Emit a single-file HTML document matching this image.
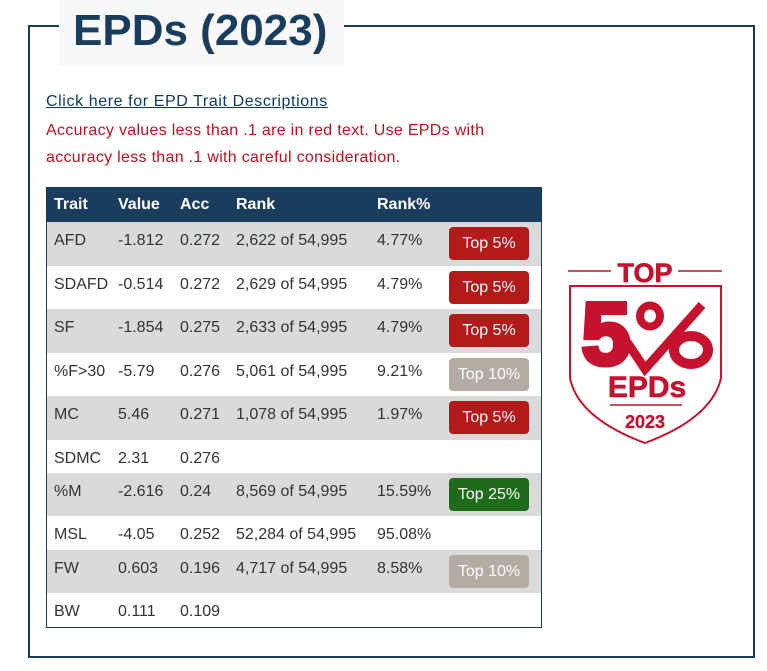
<!DOCTYPE html>
<html><head><meta charset="utf-8">
<style>
*{margin:0;padding:0;box-sizing:border-box}
body{width:767px;height:671px;background:#fff;position:relative;overflow:hidden;font-family:"Liberation Sans",sans-serif}
.frame{position:absolute;left:28px;top:25px;width:727px;height:633px;border:2px solid #1b3d5d}
.titlebox{position:absolute;left:59px;top:0;width:285px;height:66px;background:#f8f8f8}
.title{position:absolute;left:73px;top:6px;font-size:44px;font-weight:bold;color:#1b3d5d;white-space:nowrap}
.link{position:absolute;left:46px;top:93px;font-size:16px;color:#0b3b66;text-decoration:underline;letter-spacing:0.6px;white-space:nowrap}
.red{position:absolute;left:46px;font-size:16px;color:#c01020;letter-spacing:0.3px;white-space:nowrap}
.tbl{position:absolute;left:46px;top:187px;width:496px;height:441px;border:1px solid #1b3d5d;background:#fff}
.row{position:absolute;left:0;width:494px}
.row span{position:absolute;top:10px;font-size:16px;color:#333;white-space:nowrap}
.hdr{background:#1b3d5d;top:0;height:34px}
.hdr span{color:#fff;font-weight:bold;top:8px}
.g{background:#dadada}
.btn{position:absolute;left:402px;width:80px;height:33px;border-radius:4px;color:#fff;font-size:16px;text-align:center;line-height:33px}
.r{background:#b31b1b}.gr{background:#b3aca3}.gn{background:#1f6b1c}
</style></head><body>
<div class="frame"></div>
<div class="titlebox"></div>
<div class="title">EPDs (2023)</div>
<div class="link">Click here for EPD Trait Descriptions</div>
<div class="red" style="top:122px">Accuracy values less than .1 are in red text. Use EPDs with</div>
<div class="red" style="top:149px">accuracy less than .1 with careful consideration.</div>
<div class="tbl">
<div class="row hdr"><span style="left:7px">Trait</span><span style="left:71px">Value</span><span style="left:133px">Acc</span><span style="left:189px">Rank</span><span style="left:330px">Rank%</span></div>
<div class="row g" style="top:34px;height:44px"><span style="left:7px">AFD</span><span style="left:71px">-1.812</span><span style="left:133px">0.272</span><span style="left:189px">2,622 of 54,995</span><span style="left:330px">4.77%</span><div class="btn r" style="top:5px">Top 5%</div></div>
<div class="row" style="top:78px;height:43px"><span style="left:7px">SDAFD</span><span style="left:71px">-0.514</span><span style="left:133px">0.272</span><span style="left:189px">2,629 of 54,995</span><span style="left:330px">4.79%</span><div class="btn r" style="top:5px">Top 5%</div></div>
<div class="row g" style="top:121px;height:44px"><span style="left:7px">SF</span><span style="left:71px">-1.854</span><span style="left:133px">0.275</span><span style="left:189px">2,633 of 54,995</span><span style="left:330px">4.79%</span><div class="btn r" style="top:5px">Top 5%</div></div>
<div class="row" style="top:165px;height:43px"><span style="left:7px">%F&gt;30</span><span style="left:71px">-5.79</span><span style="left:133px">0.276</span><span style="left:189px">5,061 of 54,995</span><span style="left:330px">9.21%</span><div class="btn gr" style="top:5px">Top 10%</div></div>
<div class="row g" style="top:208px;height:44px"><span style="left:7px">MC</span><span style="left:71px">5.46</span><span style="left:133px">0.271</span><span style="left:189px">1,078 of 54,995</span><span style="left:330px">1.97%</span><div class="btn r" style="top:5px">Top 5%</div></div>
<div class="row" style="top:252px;height:33px"><span style="left:7px">SDMC</span><span style="left:71px">2.31</span><span style="left:133px">0.276</span></div>
<div class="row g" style="top:285px;height:43px"><span style="left:7px">%M</span><span style="left:71px">-2.616</span><span style="left:133px">0.24</span><span style="left:189px">8,569 of 54,995</span><span style="left:330px">15.59%</span><div class="btn gn" style="top:5px">Top 25%</div></div>
<div class="row" style="top:328px;height:34px"><span style="left:7px">MSL</span><span style="left:71px">-4.05</span><span style="left:133px">0.252</span><span style="left:189px">52,284 of 54,995</span><span style="left:330px">95.08%</span></div>
<div class="row g" style="top:362px;height:43px"><span style="left:7px">FW</span><span style="left:71px">0.603</span><span style="left:133px">0.196</span><span style="left:189px">4,717 of 54,995</span><span style="left:330px">8.58%</span><div class="btn gr" style="top:5px">Top 10%</div></div>
<div class="row" style="top:405px;height:34px"><span style="left:7px">BW</span><span style="left:71px">0.111</span><span style="left:133px">0.109</span></div>
</div>
<svg style="position:absolute;left:0;top:0" width="767" height="671">
<g fill="none" stroke="#c4122f">
<line x1="568" y1="271" x2="611" y2="271" stroke-width="1.6"/>
<line x1="678" y1="271" x2="722" y2="271" stroke-width="1.6"/>
<path d="M570 286 L721 286 L721 378 Q712 418 645 443 Q578 418 570 378 Z" stroke-width="2"/>
<line x1="610" y1="405" x2="682" y2="405" stroke-width="1.5"/>
<path d="M627 342 L645 369 L702 305" stroke-width="9" stroke-linejoin="miter"/>
<ellipse cx="650" cy="316" rx="10" ry="10.5" stroke-width="8"/>
<ellipse cx="691" cy="350" rx="17" ry="14" stroke-width="10"/>
</g>
<g fill="#c4122f" stroke="#c4122f" font-family="'Liberation Sans',sans-serif" font-weight="bold" text-anchor="middle">
<text x="606" y="364" font-size="88" stroke-width="5">5</text>
<text x="645" y="282" font-size="27" stroke-width="0.6">TOP</text>
<text x="647" y="397" font-size="30" stroke-width="0.6">EPDs</text>
<text x="645" y="428" font-size="18" stroke-width="0.3">2023</text>
</g>
</svg>
</body></html>
